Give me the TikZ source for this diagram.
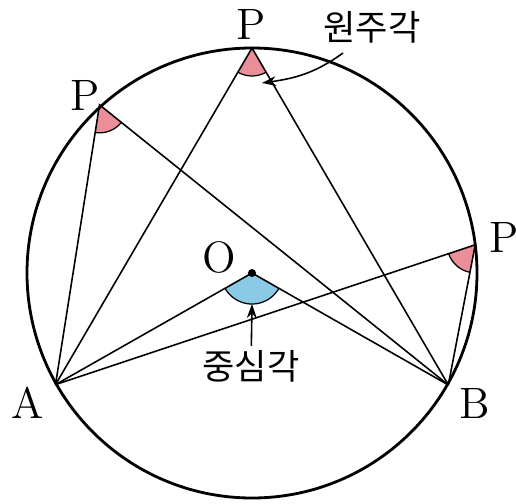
\documentclass[tikz,border=0pt]{standalone}
\usepackage{fontspec}
\newfontfamily\kofont{Noto Sans CJK KR}
\definecolor{angpink}{RGB}{234,142,153}
\definecolor{angblue}{RGB}{138,202,230}
\usetikzlibrary{positioning,arrows.meta,angles,calc}

\begin{document}
\begin{tikzpicture}[x=0.01cm,y=0.01cm,line width=0.45pt,
    every node/.style={font=\fontsize{12.5}{14}\selectfont},
    kor/.style={font=\kofont\fontsize{10}{12}\selectfont,inner sep=1pt},
    pointer/.style={-{Stealth[length=4pt,width=2.8pt]}}]
  \useasboundingbox (0,0) rectangle (516,503);
  % circle and points on it
  \coordinate (O) at (252,230);
  \coordinate (A) at ($(O)+(209.6:226)$);
  \coordinate (B) at ($(O)+(330.3:226)$);
  \coordinate (P1) at ($(O)+(132.2:227)$);
  \coordinate (P2) at ($(O)+(90:225)$);
  \coordinate (P3) at ($(O)+(7.2:225)$);
  % angle marks
  \pic[draw,fill=angpink,angle radius=0.28cm,line width=0.35pt] {angle=A--P1--B};
  \pic[draw,fill=angpink,angle radius=0.28cm,line width=0.35pt] {angle=A--P2--B};
  \pic[draw,fill=angpink,angle radius=0.28cm,line width=0.35pt] {angle=A--P3--B};
  \pic[draw,fill=angblue,angle radius=0.31cm,line width=0.35pt] {angle=A--O--B};
  \draw[line width=0.8pt] (O) circle[radius=225];
  \draw (A) -- (P1) -- (B);
  \draw (A) -- (P2) -- (B);
  \draw (A) -- (P3) -- (B);
  \draw (A) -- (O) -- (B);
  \fill (O) circle[radius=4];
  % labels
  \node (lA) at (28,100) {A};
  \node (lB) at (475,100) {B};
  \node (lO) at (219,246) {O};
  \node (lP1) at (85,408) {P};
  \node (lP2) at (251,479) {P};
  \node (lP3) at (504,266) {P};
  \node[kor] (jw) at (372,476) {원주각};
  \node[kor] (jsg) at (251,137) {중심각};
  \coordinate (jwtail) at (343,450);
  \coordinate (jwtip) at (262,420);
  \coordinate (jsgtip) at (252,199);
  \draw[pointer] (jwtail) to[out=216,in=8] (jwtip);
  \draw[pointer] (jsg) -- (jsgtip);
\end{tikzpicture}
\end{document}
